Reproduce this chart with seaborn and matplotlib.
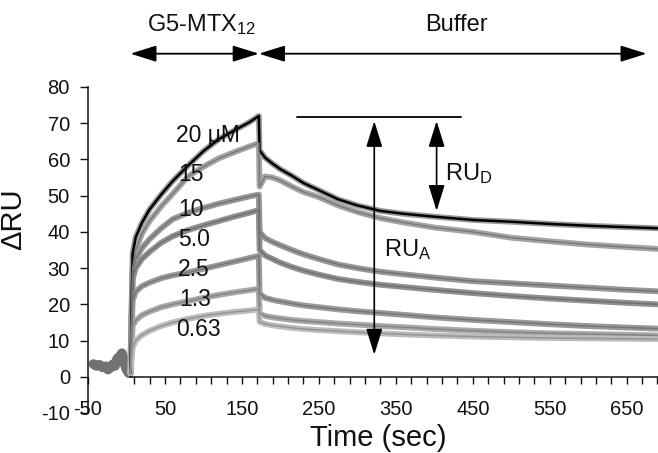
import numpy as np
import pandas as pd
import matplotlib
matplotlib.use("Agg")
import matplotlib.pyplot as plt
from matplotlib.ticker import FixedLocator
import seaborn as sns

# ---------------- data ----------------
baseline_t = [-43, -39, -35, -31, -27, -24, -21, -18, -15, -12, -9, -6, -3, 0, 3]
baseline_ru = [3.5, 3.0, 3.3, 2.6, 2.9, 2.0, 2.5, 3.4, 3.0, 5.0, 5.5, 6.5, 4.0, 2.0, 1.0]

time_s = [5, 8, 12, 20, 30, 45, 60, 80, 100, 120, 140, 160, 172, 173, 180, 190, 200,
          215, 230, 250, 275, 300, 330, 360, 400, 450, 500, 550, 600, 650, 690]

ru_20 = [1, 34, 38.5, 42.5, 46.2, 50.3, 54, 58.3, 62.3, 65.6, 68, 70.3, 72, 62.5, 60.5,
         58.8, 57.3, 55.5, 53.5, 51.5, 49, 47.3, 45.8, 45.0, 44.2, 43.3, 42.8, 42.2, 41.7,
         41.3, 41.0]
ru_15 = [1, 30, 35, 39.5, 43, 47, 50.5, 55.3, 58, 60.3, 62, 63.6, 64.5, 52.5, 55.3, 55,
         54.2, 52.5, 51, 49.6, 47.3, 45.5, 43.8, 42.6, 41.2, 40, 38.4, 37.4, 36.5, 35.8,
         35.3]
ru_10 = [1, 29, 32.5, 35.5, 38, 41, 43.5, 45.3, 46.6, 47.8, 48.8, 49.8, 50.3, 40, 38.3,
         37.2, 36.3, 35, 33.8, 32.5, 31, 30, 29, 28.3, 27.4, 26.4, 25.8, 25.2, 24.6, 24,
         23.6]
ru_5 = [1, 27, 30, 32.5, 34.5, 37, 38.8, 40.5, 41.8, 43, 44.2, 45.3, 46, 35, 33.5, 32.5,
        31.5, 30.3, 29.3, 28.2, 27, 26.2, 25.4, 24.8, 24, 23.1, 22.3, 21.6, 21, 20.4, 20]
ru_2_5 = [1, 21, 23.5, 25, 26, 27.2, 28, 28.8, 29.8, 30.8, 31.8, 32.8, 33.4, 23, 21.8,
          21.2, 20.8, 20.2, 19.7, 19.2, 18.6, 18.1, 17.6, 17.1, 16.4, 15.7, 15.1, 14.5,
          14, 13.6, 13.3]
ru_1_3 = [1, 14, 15.5, 17, 18, 19.2, 20, 20.9, 21.8, 22.6, 23.3, 23.9, 24.3, 17.5, 16.8,
          16.4, 16.1, 15.7, 15.4, 15.1, 14.7, 14.4, 14.0, 13.7, 13.2, 12.7, 12.3, 12.0,
          11.8, 11.6, 11.4]
ru_0_63 = [1, 8, 10, 11.5, 12.7, 14, 15, 16, 16.8, 17.4, 17.9, 18.3, 18.6, 15.2, 14.6,
           14.2, 13.9, 13.5, 13.2, 12.9, 12.6, 12.3, 12.0, 11.7, 11.4, 11.1, 10.9, 10.7,
           10.6, 10.5, 10.4]

conc_labels = ["20 \u03bcM", "15", "10", "5.0", "2.5", "1.3", "0.63"]
series = [ru_20, ru_15, ru_10, ru_5, ru_2_5, ru_1_3, ru_0_63]

x_major = [-50, 50, 150, 250, 350, 450, 550, 650]
y_major = [-10, 0, 10, 20, 30, 40, 50, 60, 70, 80]

# ---------------- styling ----------------
sns.set_theme(style="ticks")
plt.rcParams["font.family"] = ["Liberation Sans", "DejaVu Sans"]
plt.rcParams["mathtext.fontset"] = "custom"
plt.rcParams["mathtext.rm"] = "Liberation Sans"
plt.rcParams["mathtext.it"] = "Liberation Sans:italic"
plt.rcParams["mathtext.default"] = "regular"
plt.rcParams["axes.unicode_minus"] = False

data_cols = ["#9a9a9a", "#a4a4a4", "#979797", "#909090", "#999999", "#a8a8a8", "#bcbcbc"]
fit_cols = ["#000000", "#7a7a7a", "#747474", "#707070", "#767676", "#858585", "#959595"]
label_y = [66.7, 55.8, 46.1, 37.8, 29.7, 21.4, 13.1]
label_x = [64, 67, 67, 67, 67, 68, 65]

fig = plt.figure(figsize=(6.58, 4.53), dpi=100)
ax = fig.add_axes([88 / 658, 40 / 453, 571 / 658, 326 / 453])

# baseline before injection
sns.lineplot(x=baseline_t, y=baseline_ru, ax=ax, color="#727272", lw=7,
             sort=False, estimator=None, legend=False)

# data traces (thick gray) then fitted lines
for vals, c in zip(series, data_cols):
    sns.lineplot(x=time_s, y=vals, ax=ax, color=c, lw=4.2, sort=False,
                 estimator=None, legend=False)
for vals, c in zip(series, fit_cols):
    sns.lineplot(x=time_s, y=vals, ax=ax, color=c, lw=1.8 if c == "#000000" else 1.1,
                 sort=False, estimator=None, legend=False)

for lab, lx, ly in zip(conc_labels, label_x, label_y):
    ax.text(lx, ly, lab, fontsize=16.5, ha="left", va="center", color="#111111")

# axes
ax.set_xlim(-50, 692)
ax.set_ylim(-10, 80)
ax.spines["top"].set_visible(False)
ax.spines["right"].set_visible(False)
ax.spines["bottom"].set_position(("data", 0))
ax.spines["bottom"].set_bounds(4, 692)
ax.spines["left"].set_bounds(-10, 80)
for s in ["bottom", "left"]:
    ax.spines[s].set_linewidth(1.1)
    ax.spines[s].set_color("#111111")
ax.xaxis.set_major_locator(FixedLocator(x_major))
ax.xaxis.set_minor_locator(FixedLocator(list(range(10, 692, 20))))
ax.set_yticks(y_major)
ax.set_xticklabels([str(v) for v in x_major])
ax.set_yticklabels([str(v) for v in y_major])
ax.tick_params(axis="x", which="both", direction="out", length=5, width=1,
               labelsize=14.5, pad=12, colors="#111111")
ax.tick_params(axis="y", direction="out", length=6, width=1, labelsize=14.5, pad=7,
               colors="#111111")

ax.set_xlabel("Time (sec)", fontsize=21, color="#111111")
ax.xaxis.set_label_coords(0.508, -0.035)
ax.set_ylabel("\u0394RU", fontsize=21, color="#111111")
ax.yaxis.set_label_coords(-0.107, 0.595)

# top phase arrows
hp = dict(arrowstyle="<|-|>,head_length=1.6,head_width=0.5", color="black",
          lw=1.3, mutation_scale=10, shrinkA=0, shrinkB=0)
ax.annotate("", xy=(5, 89.2), xytext=(172, 89.2), arrowprops=hp, annotation_clip=False)
ax.annotate("", xy=(172, 89.2), xytext=(676, 89.2), arrowprops=hp, annotation_clip=False)
ax.text(97, 95.5, "G5-MTX$_{12}$", fontsize=17, ha="center", va="baseline",
        color="#111111", clip_on=False)
ax.text(429, 95.5, "Buffer", fontsize=17, ha="center", va="baseline",
        color="#111111", clip_on=False)

# RU_A / RU_D annotations
ax.plot([221, 435], [71.7, 71.7], color="black", lw=1.3)
vp = dict(arrowstyle="<|-|>,head_length=1.6,head_width=0.5", color="black",
          lw=1.2, mutation_scale=10, shrinkA=0, shrinkB=0)
ax.annotate("", xy=(322, 70.6), xytext=(322, 6.1), arrowprops=vp)
ax.annotate("", xy=(403, 70.6), xytext=(403, 45.8), arrowprops=vp)
ax.text(334, 33.3, "RU$_{A}$", fontsize=17, ha="left", va="baseline", color="#111111")
ax.text(414, 54.3, "RU$_{D}$", fontsize=17, ha="left", va="baseline", color="#111111")

fig.savefig("out.png", dpi=100)
